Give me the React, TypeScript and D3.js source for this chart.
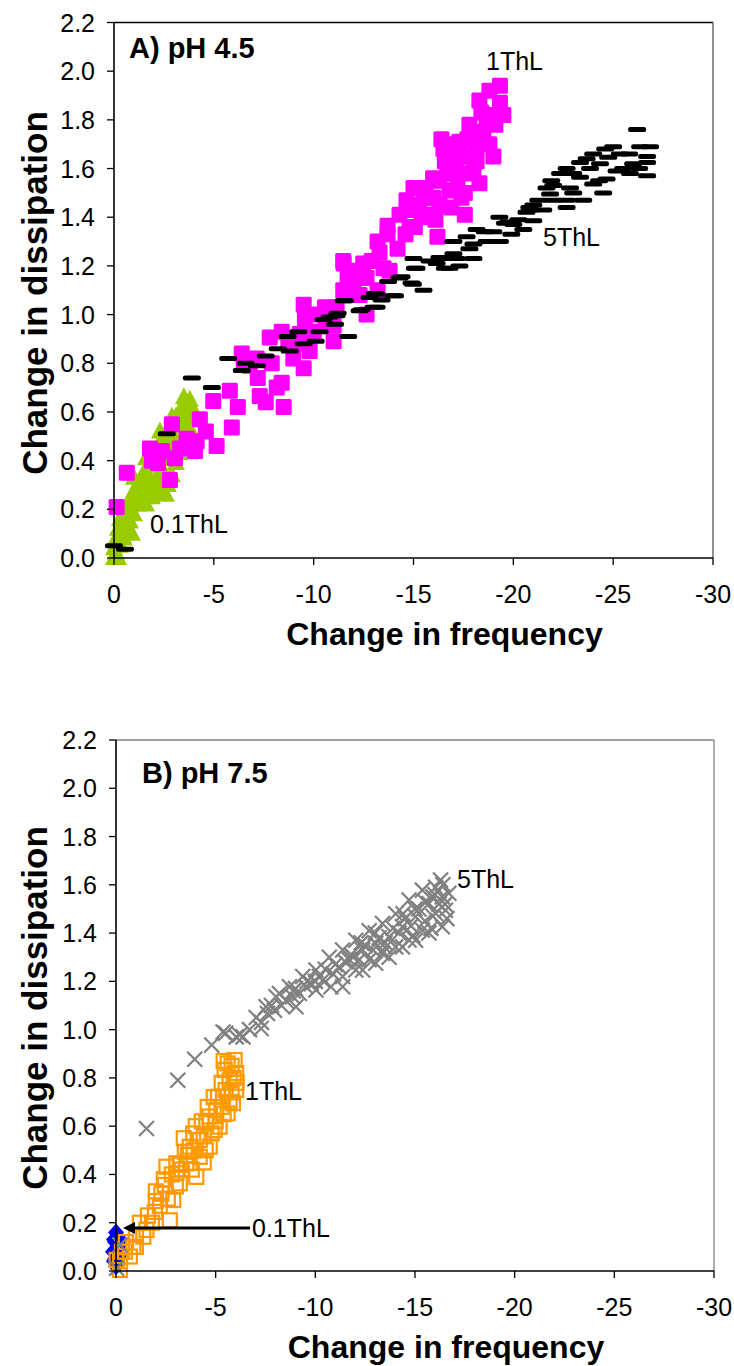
import React from 'react';
import * as d3 from 'd3';

// ---------- Data ----------
const xTickValues = [0, -5, -10, -15, -20, -25, -30];
const yTickValues = [0, 0.2, 0.4, 0.6, 0.8, 1.0, 1.2, 1.4, 1.6, 1.8, 2.0, 2.2];

// Panel A (pH 4.5)
const a01ThL: [number, number][] = [
  [0, 0.0], [-0.2, 0.0], [0, 0.04], [-0.3, 0.05], [-0.1, 0.08], [-0.4, 0.1], [-0.2, 0.12], [-0.6, 0.13],
  [-0.3, 0.16], [-0.8, 0.15], [-0.5, 0.19], [-1.0, 0.18], [-0.7, 0.22], [-1.2, 0.22], [-0.9, 0.26],
  [-1.5, 0.25], [-1.1, 0.29], [-1.7, 0.28], [-1.3, 0.32], [-2.0, 0.3], [-1.5, 0.35], [-2.2, 0.33],
  [-2.6, 0.26], [-1.7, 0.38], [-2.4, 0.37], [-2.9, 0.34], [-1.9, 0.42], [-2.6, 0.41], [-3.1, 0.39],
  [-2.2, 0.46], [-2.8, 0.45], [-3.3, 0.43], [-2.5, 0.5], [-3.0, 0.5], [-3.5, 0.48], [-2.8, 0.54],
  [-3.3, 0.55], [-3.8, 0.53], [-3.1, 0.58], [-3.6, 0.6], [-4.0, 0.58], [-3.4, 0.62], [-3.8, 0.65],
  [-1.6, 0.22], [-0.9, 0.1], [-2.1, 0.27],
  [-0.1, 0.02], [-0.2, 0.07], [-0.4, 0.14], [-0.6, 0.17], [-0.5, 0.08], [-0.8, 0.2], [-1.1, 0.24],
  [-1.3, 0.27], [-1.0, 0.33], [-1.4, 0.3], [-1.8, 0.33], [-1.6, 0.41], [-2.0, 0.38], [-2.3, 0.41],
  [-2.1, 0.44], [-2.5, 0.46], [-2.7, 0.49], [-2.3, 0.52], [-2.9, 0.58], [-3.2, 0.47], [-3.6, 0.55],
  [-3.9, 0.62], [-3.5, 0.66], [-2.7, 0.3], [-2.3, 0.29], [-1.9, 0.25],
];

const a1ThL: [number, number][] = [
  [-0.13, 0.21], [-0.64, 0.35], [-1.8, 0.45], [-2.2, 0.39], [-2.9, 0.55], [-3.05, 0.41], [-2.8, 0.32],
  [-3.64, 0.49], [-4.14, 0.48], [-4.3, 0.57], [-4.06, 0.44], [-5.14, 0.46], [-4.97, 0.645], [-5.8, 0.687],
  [-5.9, 0.536], [-6.2, 0.62], [-7.3, 0.666], [-7.6, 0.64], [-8.15, 0.7], [-8.4, 0.72], [-8.5, 0.62],
  [-6.4, 0.84], [-6.5, 0.8], [-7.15, 0.82], [-7.9, 0.8], [-7.8, 0.906], [-8.4, 0.93], [-9.06, 0.88],
  [-8.98, 0.82], [-9.5, 0.78], [-9.8, 0.85], [-9.5, 1.04], [-9.56, 0.98], [-10.15, 1.0], [-10.57, 1.03],
  [-11.0, 0.89], [-11.0, 0.955], [-11.5, 1.21], [-11.57, 1.09], [-8.73, 0.885],
  [-11.48, 1.22], [-12.48, 1.21], [-12.65, 1.15], [-13.3, 1.255], [-13.7, 1.33], [-13.8, 1.18],
  [-11.48, 1.1], [-12.3, 1.08], [-13.2, 1.1], [-12.65, 1.0], [-13.7, 1.365], [-14.3, 1.41], [-14.2, 1.27],
  [-14.9, 1.43], [-15.07, 1.36], [-15.5, 1.48], [-15.8, 1.41], [-16.2, 1.32], [-15.98, 1.56], [-16.57, 1.63],
  [-16.4, 1.72], [-16.8, 1.51], [-17.57, 1.41], [-17.57, 1.5], [-18.3, 1.54], [-17.8, 1.78], [-17.3, 1.71],
  [-18.16, 1.69], [-18.8, 1.7], [-19.0, 1.65], [-18.16, 1.63], [-17.15, 1.6], [-18.3, 1.88], [-18.8, 1.92],
  [-19.33, 1.94], [-19.5, 1.82], [-19.33, 1.87], [-18.66, 1.8], [-14.65, 1.47], [-15.0, 1.52],
  [-13.5, 1.19], [-12.07, 1.18], [-11.15, 1.03], [-14.6, 1.33], [-16.9, 1.58], [-17.0, 1.66], [-15.4, 1.4],
  [-16.3, 1.45], [-17.9, 1.58],
  [-15.3, 1.45], [-15.6, 1.52], [-16.0, 1.48], [-16.3, 1.55], [-16.7, 1.6], [-17.2, 1.55], [-17.5, 1.65],
  [-17.7, 1.72], [-18.0, 1.72], [-18.5, 1.75], [-18.9, 1.82], [-19.1, 1.78], [-18.0, 1.6], [-17.4, 1.48],
  [-16.1, 1.39], [-14.8, 1.36], [-13.2, 1.3], [-12.9, 1.22], [-12.0, 1.13], [-11.7, 1.15], [-10.6, 0.96],
  [-10.0, 0.93], [-9.3, 0.92], [-7.2, 0.74], [-6.8, 0.79], [-4.6, 0.52], [-3.3, 0.45], [-2.4, 0.44],
  [-1.9, 0.4], [-18.4, 1.83], [-18.1, 1.66], [-16.9, 1.44], [-17.0, 1.7], [-16.5, 1.68],
];

const a5ThL: [number, number][] = [
  [0, 0.05], [-0.55, 0.036], [-2.64, 0.51], [-3.9, 0.74], [-4.9, 0.7], [-5.72, 0.82], [-6.4, 0.77],
  [-7.15, 0.79], [-7.6, 0.83], [-8.2, 0.86], [-8.7, 0.91], [-9.23, 0.93], [-10.3, 0.93], [-10.1, 0.89],
  [-10.8, 0.99], [-11.2, 1.006], [-11.07, 0.96], [-11.57, 1.057], [-11.73, 0.91], [-11.15, 0.995],
  [-13.15, 1.03], [-12.4, 1.02], [-13.4, 1.06], [-14.07, 1.077], [-13.07, 1.087], [-13.73, 1.136],
  [-14.4, 1.155], [-14.9, 1.13], [-15.5, 1.1], [-15.07, 1.19], [-15.8, 1.22], [-16.5, 1.23], [-16.57, 1.19],
  [-17.15, 1.23], [-17.3, 1.2], [-17.0, 1.3], [-17.66, 1.32], [-18.16, 1.35], [-18.66, 1.3], [-19.33, 1.3],
  [-17.8, 1.27], [-18.57, 1.34], [-19.58, 1.375], [-19.9, 1.33], [-20.5, 1.35], [-20.25, 1.39],
  [-20.66, 1.42], [-20.8, 1.44], [-21.25, 1.47], [-21.66, 1.52], [-16.16, 1.21], [-15.0, 1.23],
  [-26.2, 1.76], [-25.0, 1.69], [-26.35, 1.69], [-26.85, 1.69], [-24.0, 1.66], [-25.33, 1.66], [-26.7, 1.65],
  [-23.34, 1.625], [-24.34, 1.62], [-26.0, 1.62], [-26.7, 1.625], [-22.67, 1.6], [-23.84, 1.6],
  [-25.17, 1.59], [-26.7, 1.57], [-22.34, 1.58], [-23.34, 1.564], [-24.67, 1.557], [-25.84, 1.58],
  [-22.0, 1.53], [-22.84, 1.52], [-24.0, 1.536], [-24.5, 1.5], [-21.84, 1.495], [-22.67, 1.47],
  [-23.5, 1.47], [-20.83, 1.43], [-21.5, 1.43], [-22.67, 1.44], [-19.75, 1.38], [-21.0, 1.386],
  [-23.67, 1.64], [-24.75, 1.646], [-16.3, 1.235], [-15.15, 1.19], [-16.8, 1.19], [-14.3, 1.15],
  [-14.97, 1.125], [-13.15, 1.084], [-14.0, 1.077], [-13.0, 1.03], [-12.3, 1.016], [-11.5, 1.057],
  [-17.0, 1.25], [-18.0, 1.29], [-19.0, 1.34], [-20.0, 1.37], [-21.0, 1.45], [-22.0, 1.47], [-23.0, 1.5],
  [-24.3, 1.55], [-25.5, 1.6], [-26.3, 1.6], [-25.8, 1.66], [-24.6, 1.68], [-23.0, 1.58], [-21.9, 1.55],
  [-19.3, 1.4], [-18.0, 1.23], [-12.8, 1.07], [-10.5, 0.98], [-9.5, 0.88], [-6.6, 0.8], [-8.8, 0.85],
];

// Panel B (pH 7.5)
const b01ThL: [number, number][] = [
  [0, 0.16], [-0.1, 0.14], [0.05, 0.12], [-0.2, 0.11], [0, 0.09], [-0.1, 0.07], [0.05, 0.05],
  [-0.1, 0.03], [0, 0.02], [-0.2, 0.06], [-0.1, 0.1], [0.1, 0.13], [0.15, 0.08], [0.1, 0.04],
];

const b1ThL: [number, number][] = [
  [-0.2, 0.04], [-0.45, 0.08], [-0.87, 0.1], [-1.53, 0.17], [-1.2, 0.2], [-1.95, 0.245], [-2.7, 0.21],
  [-2.28, 0.32], [-2.87, 0.294], [-2.45, 0.356], [-3.03, 0.405], [-3.53, 0.446], [-4.03, 0.39],
  [-3.45, 0.494], [-4.2, 0.543], [-3.87, 0.57], [-4.7, 0.515], [-4.53, 0.612], [-5.03, 0.667],
  [-4.95, 0.584], [-5.37, 0.722], [-5.6, 0.653], [-5.7, 0.79], [-6.03, 0.75], [-5.6, 0.86], [-5.95, 0.874],
  [-6.03, 0.82], [-5.45, 0.833], [-3.2, 0.363], [-2.53, 0.432], [-3.03, 0.446], [-3.7, 0.515],
  [-4.2, 0.473], [-4.7, 0.64], [-5.2, 0.598], [-5.12, 0.722], [-5.87, 0.695], [-1.37, 0.142],
  [-0.7, 0.06], [-0.03, 0.046], [-0.2, 0.004], [-4.4, 0.56], [-5.3, 0.68], [-5.8, 0.74], [-3.3, 0.42],
  [-2.0, 0.29], [-1.6, 0.23],
  [-0.5, 0.12], [-1.0, 0.15], [-1.8, 0.2], [-2.2, 0.27], [-2.6, 0.3], [-2.4, 0.38], [-2.8, 0.4],
  [-3.2, 0.44], [-3.6, 0.48], [-3.4, 0.55], [-3.9, 0.5], [-4.0, 0.6], [-4.3, 0.62], [-4.5, 0.5],
  [-4.8, 0.57], [-4.6, 0.68], [-5.0, 0.62], [-4.9, 0.72], [-5.4, 0.65], [-5.3, 0.78], [-5.7, 0.7],
  [-5.5, 0.75], [-5.9, 0.8], [-5.8, 0.85], [-6.05, 0.78], [-5.4, 0.87], [-3.0, 0.35], [-3.8, 0.42],
  [-4.4, 0.45], [-2.0, 0.33], [-1.0, 0.1], [-0.3, 0.08],
];

const b5ThL: [number, number][] = [
  [-1.53, 0.59], [-3.1, 0.79], [-3.95, 0.877], [-4.8, 0.936], [-5.5, 0.985], [-6.2, 0.978], [-0.2, 0.108],
  [-0.03, 0.011], [-5.37, 0.99], [-6.03, 0.97], [-6.37, 0.97], [-6.7, 1.0], [-7.28, 1.005], [-7.6, 1.067],
  [-7.95, 1.08], [-8.53, 1.12], [-8.87, 1.136], [-9.03, 1.095], [-9.53, 1.178], [-10.03, 1.164],
  [-10.37, 1.205], [-10.78, 1.178], [-11.2, 1.26], [-11.37, 1.22], [-11.7, 1.29], [-12.03, 1.247],
  [-12.37, 1.33], [-12.7, 1.29], [-13.03, 1.357], [-13.37, 1.316], [-13.7, 1.385], [-14.03, 1.343],
  [-14.37, 1.426], [-14.7, 1.371], [-15.03, 1.468], [-15.37, 1.413], [-15.7, 1.523], [-16.03, 1.482],
  [-16.28, 1.62], [-16.37, 1.55], [-16.53, 1.495], [-15.37, 1.578], [-14.7, 1.537], [-14.03, 1.48],
  [-13.37, 1.44], [-12.7, 1.41], [-12.03, 1.37], [-11.37, 1.33], [-10.7, 1.3], [-10.03, 1.247],
  [-9.37, 1.22], [-8.7, 1.178], [-8.03, 1.136], [-7.53, 1.095], [-7.03, 1.05], [-16.37, 1.426],
  [-15.7, 1.4], [-15.03, 1.37], [-14.37, 1.343], [-13.7, 1.3], [-13.03, 1.275], [-12.37, 1.247],
  [-11.37, 1.178], [-16.7, 1.565], [-16.03, 1.59], [-15.9, 1.55], [-15.2, 1.5], [-14.5, 1.46],
  [-13.9, 1.42], [-13.2, 1.38], [-12.5, 1.35], [-11.8, 1.31], [-11.0, 1.27], [-10.2, 1.22], [-9.6, 1.2],
  [-7.3, 1.03], [-7.8, 1.1], [-8.3, 1.1], [-8.2, 1.15], [-8.9, 1.16], [-9.2, 1.15], [-9.8, 1.19],
  [-10.5, 1.25], [-10.9, 1.23], [-11.5, 1.28], [-11.9, 1.3], [-12.2, 1.29], [-12.9, 1.33], [-13.5, 1.36],
  [-13.5, 1.34], [-14.2, 1.4], [-14.8, 1.43], [-15.5, 1.45], [-15.9, 1.47], [-16.2, 1.52], [-16.5, 1.52],
  [-16.0, 1.56], [-15.5, 1.53], [-15.0, 1.5], [-14.4, 1.48], [-13.0, 1.4], [-10.0, 1.2], [-9.0, 1.17],
  [-12.3, 1.36], [-16.4, 1.6], [-16.6, 1.46], [-15.8, 1.42], [-14.9, 1.39],
];

// ---------- Layout ----------
const FONT = "'Liberation Sans', Arial, Helvetica, sans-serif";

type Box = { left: number; right: number; top: number; bottom: number };
const boxA: Box = { left: 114, right: 713, top: 22.5, bottom: 558 };
const boxB: Box = { left: 116, right: 714, top: 740, bottom: 1271 };

function Axes({ box, x, y, borderColor, topColor, yTitleCenter }: any) {
  return (
    <g>
      <line x1={box.left} x2={box.right} y1={box.top} y2={box.top} stroke={topColor} strokeWidth={1.3} />
      <line x1={box.right} x2={box.right} y1={box.top} y2={box.bottom} stroke={borderColor} strokeWidth={1.3} />
      <line x1={box.left} x2={box.left} y1={box.top} y2={box.bottom} stroke="#000" strokeWidth={1.6} />
      <line x1={box.left} x2={box.right} y1={box.bottom} y2={box.bottom} stroke="#000" strokeWidth={1.6} />
      {yTickValues.map((t) => (
        <g key={'y' + t}>
          <line x1={box.left - 7} x2={box.left} y1={y(t)} y2={y(t)} stroke="#000" strokeWidth={1.3} />
          <text x={box.left - 19} y={y(t) + 9} textAnchor="end" fontSize={25} fontFamily={FONT}>
            {t.toFixed(1)}
          </text>
        </g>
      ))}
      {xTickValues.map((t) => (
        <g key={'x' + t}>
          <line x1={x(t)} x2={x(t)} y1={box.bottom} y2={box.bottom + 7} stroke="#000" strokeWidth={1.3} />
          <text x={x(t)} y={box.bottom + 45} textAnchor="middle" fontSize={25} fontFamily={FONT}>
            {t === 0 ? '0' : String(t)}
          </text>
        </g>
      ))}
      <text
        x={(box.left + box.right) / 2 + 31}
        y={box.bottom + 87}
        textAnchor="middle"
        fontSize={32}
        fontWeight="bold"
        fontFamily={FONT}
      >
        Change in frequency
      </text>
      <text
        transform={`translate(47,${yTitleCenter}) rotate(-90)`}
        textAnchor="middle"
        fontSize={35}
        fontWeight="bold"
        fontFamily={FONT}
      >
        Change in dissipation
      </text>
    </g>
  );
}

export default function App() {
  const xA = d3.scaleLinear().domain([0, -30]).range([boxA.left, boxA.right]);
  const yA = d3.scaleLinear().domain([0, 2.2]).range([boxA.bottom, boxA.top]);
  const xB = d3.scaleLinear().domain([0, -30]).range([boxB.left, boxB.right]);
  const yB = d3.scaleLinear().domain([0, 2.2]).range([boxB.bottom, boxB.top]);

  const tri = (cx: number, cy: number) => `M${cx},${cy - 10}L${cx + 9},${cy + 7}L${cx - 9},${cy + 7}Z`;
  const diamond = (cx: number, cy: number) => `M${cx},${cy - 9}L${cx + 8},${cy}L${cx},${cy + 9}L${cx - 8},${cy}Z`;

  return (
    <svg
      width={734}
      height={1366}
      style={{ position: 'absolute', left: 0, top: 0, background: '#fff' }}
    >
      <rect x={0} y={0} width={734} height={1366} fill="#fff" />
      {/* Panel A */}
      <g>
        {a01ThL.map(([f, d], i) => (
          <path key={'ag' + i} d={tri(xA(f), yA(d))} fill="#99CC00" />
        ))}
        {a1ThL.map(([f, d], i) => (
          <rect key={'am' + i} x={xA(f) - 8} y={yA(d) - 8} width={16} height={16} rx={1.5} fill="#FF00FF" />
        ))}
        {a5ThL.map(([f, d], i) => (
          <rect key={'ab' + i} x={xA(f) - 9} y={yA(d) - 2.5} width={18} height={5} rx={2.2} fill="#000" />
        ))}
        <Axes box={boxA} x={xA} y={yA} borderColor="#555" topColor="#000" yTitleCenter={293} />
        <text x={129} y={58} fontSize={29} fontWeight="bold" fontFamily={FONT}>A) pH 4.5</text>
        <text x={486} y={70} fontSize={25} fontFamily={FONT}>1ThL</text>
        <text x={543} y={246} fontSize={25} fontFamily={FONT}>5ThL</text>
        <text x={150} y={533} fontSize={25} fontFamily={FONT}>0.1ThL</text>
      </g>

      {/* Panel B */}
      <g>
        {b01ThL.map(([f, d], i) => (
          <path key={'bb' + i} d={diamond(xB(f), yB(d))} fill="#0000FF" />
        ))}
        {b1ThL.map(([f, d], i) => (
          <rect key={'bo' + i} x={xB(f) - 7} y={yB(d) - 7} width={14} height={14} fill="none" stroke="#FF9900" strokeWidth={2.2} />
        ))}
        {b5ThL.map(([f, d], i) => {
          const cx = xB(f), cy = yB(d), s = 7.5;
          return (
            <g key={'bx' + i} stroke="#808080" strokeWidth={2.2}>
              <line x1={cx - s} y1={cy - s} x2={cx + s} y2={cy + s} />
              <line x1={cx - s} y1={cy + s} x2={cx + s} y2={cy - s} />
            </g>
          );
        })}
        <Axes box={boxB} x={xB} y={yB} borderColor="#808080" topColor="#808080" yTitleCenter={1008} />
        <text x={142} y={783} fontSize={29} fontWeight="bold" fontFamily={FONT}>B) pH 7.5</text>
        <text x={457} y={888} fontSize={25} fontFamily={FONT}>5ThL</text>
        <text x={245} y={1100} fontSize={25} fontFamily={FONT}>1ThL</text>
        <text x={252} y={1237} fontSize={25} fontFamily={FONT}>0.1ThL</text>
        <line x1={250} x2={133} y1={1228} y2={1228} stroke="#000" strokeWidth={3} />
        <path d="M123,1228L135,1222L135,1234Z" fill="#000" />
      </g>
    </svg>
  );
}
